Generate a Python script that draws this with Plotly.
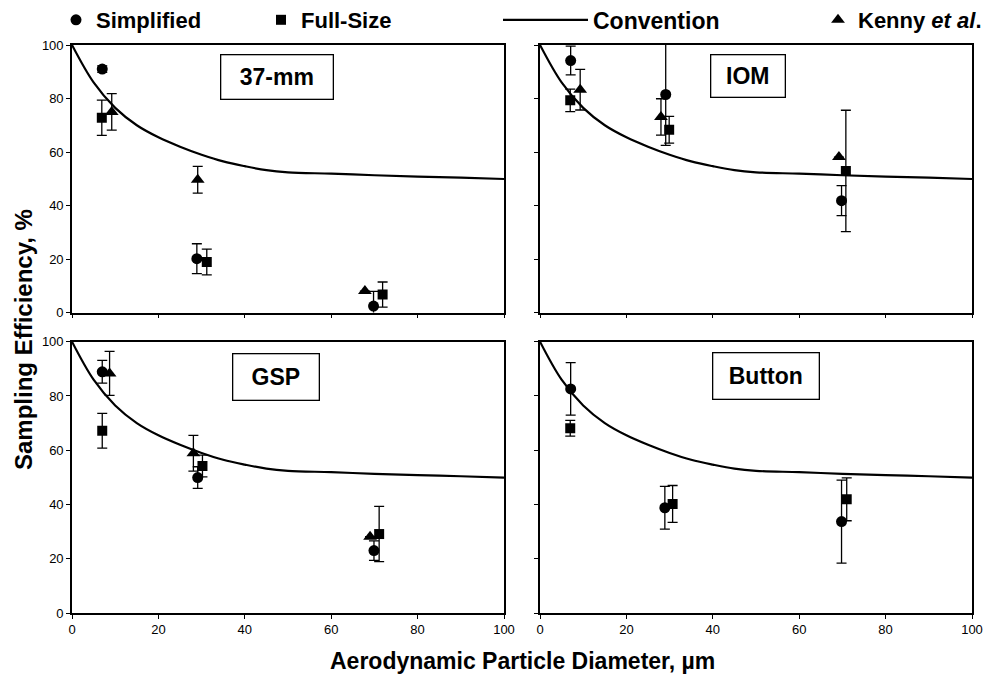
import plotly.graph_objects as go

# ---------------- data ----------------
conv_x = [0, 5, 10, 15, 20, 25, 30, 35, 40, 45, 50, 60, 70, 80, 90, 100]
conv_y = [100, 86, 76.5, 70, 65.5, 62, 59, 56.5, 54.7, 53.2, 52.4, 51.9, 51.3, 50.8, 50.4, 49.9]

panels = ["37-mm", "IOM", "GSP", "Button"]

# 37-mm
simp_37_x = [7.0, 28.9, 69.8]
simp_37_y = [91.0, 20.1, 2.4]
simp_37_e = [1.2, 5.6, 5.5]
full_37_x = [6.9, 31.2, 71.9]
full_37_y = [72.8, 18.9, 6.7]
full_37_e = [6.6, 4.8, 4.7]
kenny_37_x = [9.2, 29.1, 67.8]
kenny_37_y = [75.0, 49.6, 8.0]
kenny_37_e = [6.8, 5.0, 0]

# IOM
simp_iom_x = [7.1, 29.1, 69.8]
simp_iom_y = [94.2, 81.5, 41.8]
simp_iom_e = [5.4, 19.0, 5.6]
full_iom_x = [7.0, 29.9, 70.8]
full_iom_y = [79.3, 68.3, 52.9]
full_iom_e = [4.2, 5.0, 22.7]
kenny_iom_x = [9.3, 28.0, 69.2]
kenny_iom_y = [83.3, 73.1, 58.1]
kenny_iom_e = [7.6, 6.8, 0]

# GSP
simp_gsp_x = [7.0, 29.1, 69.9]
simp_gsp_y = [88.9, 49.9, 23.0]
simp_gsp_e = [4.2, 4.0, 3.6]
full_gsp_x = [7.0, 30.2, 71.1]
full_gsp_y = [67.2, 54.2, 29.1]
full_gsp_e = [6.4, 4.0, 10.2]
kenny_gsp_x = [8.7, 28.1, 69.0]
kenny_gsp_y = [88.3, 58.9, 28.1]
kenny_gsp_e = [8.1, 6.6, 0]

# Button
simp_btn_x = [7.1, 28.9, 69.8]
simp_btn_y = [82.6, 38.8, 33.7]
simp_btn_e = [9.7, 7.9, 15.3]
full_btn_x = [7.0, 30.7, 71.0]
full_btn_y = [68.1, 40.2, 41.9]
full_btn_e = [2.9, 6.8, 7.9]

tick_vals = [0, 20, 40, 60, 80, 100]
tick_text = ["0", "20", "40", "60", "80", "100"]

# ---------------- figure ----------------
# the page body has an 8px margin, so the figure is made 16px smaller and
# positioned in reference-pixel terms via px()/py().
W, H = 979, 671
ML, MR, MT, MB = 64, 15, 37, 66
PW, PH = W - ML - MR, H - MT - MB

def px(xref):
    return (xref - 8 - ML) / PW

def py(yref):
    return 1 - (yref - 8 - MT) / PH

fig = go.Figure()

xdom_left = [0, px(504)]
xdom_right = [px(540), 1]
ydom_top = [py(312.5), 1]
ydom_bot = [0, py(341.7)]

axes = [("x", "y", xdom_left, ydom_top),
        ("x2", "y2", xdom_right, ydom_top),
        ("x3", "y3", xdom_left, ydom_bot),
        ("x4", "y4", xdom_right, ydom_bot)]

data = [
    (simp_37_x, simp_37_y, simp_37_e, full_37_x, full_37_y, full_37_e, kenny_37_x, kenny_37_y, kenny_37_e),
    (simp_iom_x, simp_iom_y, simp_iom_e, full_iom_x, full_iom_y, full_iom_e, kenny_iom_x, kenny_iom_y, kenny_iom_e),
    (simp_gsp_x, simp_gsp_y, simp_gsp_e, full_gsp_x, full_gsp_y, full_gsp_e, kenny_gsp_x, kenny_gsp_y, kenny_gsp_e),
    (simp_btn_x, simp_btn_y, simp_btn_e, full_btn_x, full_btn_y, full_btn_e, None, None, None),
]

def err(e):
    return dict(type="data", array=e, visible=True, color="black", thickness=1.3, width=5)

for i, ((xa, ya, xd, yd), d) in enumerate(zip(axes, data)):
    first = i == 0
    sx, sy, se, fx, fy, fe, kx, ky, ke = d
    fig.add_trace(go.Scatter(x=conv_x, y=conv_y, mode="lines", line=dict(color="black", width=2.2, shape="spline"),
                             name="Convention", showlegend=first, legend="legend3", xaxis=xa, yaxis=ya))
    fig.add_trace(go.Scatter(x=sx, y=sy, mode="markers", error_y=err(se),
                             marker=dict(symbol="circle", size=11, color="black"),
                             name="Simplified", showlegend=first, legend="legend", xaxis=xa, yaxis=ya))
    fig.add_trace(go.Scatter(x=fx, y=fy, mode="markers", error_y=err(fe),
                             marker=dict(symbol="square", size=10, color="black"),
                             name="Full-Size", showlegend=first, legend="legend2", xaxis=xa, yaxis=ya))
    if kx is not None:
        fig.add_trace(go.Scatter(x=kx, y=ky, mode="markers", error_y=err(ke),
                                 marker=dict(symbol="triangle-up", size=12, color="black"),
                                 name="Kenny <i>et al</i>.", showlegend=first, legend="legend4", xaxis=xa, yaxis=ya))

tickfont = dict(family="Liberation Sans, Arial, sans-serif", size=13, color="black")
for i, (xa, ya, xd, yd) in enumerate(axes):
    xkey = "xaxis" if xa == "x" else "xaxis" + xa[1:]
    ykey = "yaxis" if ya == "y" else "yaxis" + ya[1:]
    fig.layout[xkey] = dict(domain=xd, anchor=ya, range=[0, 100], tickvals=tick_vals, ticktext=tick_text,
                            showticklabels=(i >= 2), ticks="outside", ticklen=4, tickcolor="black",
                            showline=True, linecolor="black", linewidth=1.6, mirror=True, automargin=False,
                            showgrid=False, zeroline=False, tickfont=tickfont, fixedrange=True)
    fig.layout[ykey] = dict(domain=yd, anchor=xa, range=[0, 100], tickvals=tick_vals, ticktext=tick_text,
                            showticklabels=(i % 2 == 0), ticks="outside", ticklen=4, tickcolor="black",
                            showline=True, linecolor="black", linewidth=1.6, mirror=True, automargin=False,
                            showgrid=False, zeroline=False, tickfont=tickfont, fixedrange=True)

# panel labels (boxes): text, centre x, centre y, width, height in reference pixels
label_boxes = [("37-mm", 276.5, 77.5, 113, 45), ("IOM", 747.5, 76, 75, 43),
               ("GSP", 275.5, 376.5, 87, 47), ("Button", 765.5, 376, 107, 47)]
annotations = []
for txt, cx, cy, bw, bh in label_boxes:
    annotations.append(dict(text=txt, x=px(cx), y=py(cy), xref="paper", yref="paper",
                            xanchor="center", yanchor="middle",
                            showarrow=False, width=bw - 4, height=bh - 4, bordercolor="black", borderwidth=1.3,
                            borderpad=1, bgcolor="white",
                            font=dict(family="Liberation Sans, Arial, sans-serif", size=23, color="black", weight="bold")))

annotations.append(dict(text="Aerodynamic Particle Diameter, µm", x=px(522), y=py(661), xref="paper", yref="paper",
                        xanchor="center", yanchor="middle", showarrow=False,
                        font=dict(family="Liberation Sans, Arial, sans-serif", size=23, color="black", weight="bold")))
annotations.append(dict(text="Sampling Efficiency, %", x=px(23), y=py(340), xref="paper", yref="paper",
                        xanchor="center", yanchor="middle", showarrow=False, textangle=-90,
                        font=dict(family="Liberation Sans, Arial, sans-serif", size=24, color="black", weight="bold")))

def leg(xref, size=22, itemwidth=30):
    return dict(x=px(xref), y=py(20), xanchor="left", yanchor="middle", orientation="h",
                font=dict(family="Liberation Sans, Arial, sans-serif", size=size, color="black", weight="bold"),
                bgcolor="rgba(0,0,0,0)", itemclick=False, itemdoubleclick=False, itemwidth=itemwidth)

fig.update_layout(
    width=W, height=H,
    margin=dict(l=ML, r=MR, t=MT, b=MB, autoexpand=False),
    paper_bgcolor="white", plot_bgcolor="white",
    annotations=annotations,
    legend=leg(56), legend2=leg(261), legend3=leg(498, 23, 85), legend4=leg(818),
    showlegend=True,
)

fig.write_html("out.html")
